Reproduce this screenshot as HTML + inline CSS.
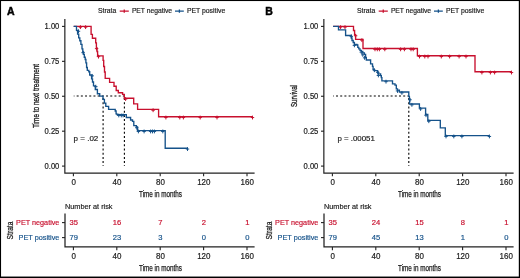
<!DOCTYPE html><html><head><meta charset="utf-8"><style>html,body{margin:0;padding:0;background:#fff;}svg{display:block;will-change:transform;}</style></head><body>
<svg width="520" height="278" viewBox="0 0 520 278" font-family='"Liberation Sans", sans-serif'>
<rect x="0" y="0" width="520" height="278" fill="#fff"/>
<text x="6.90" y="14.70" font-size="10.5" fill="#000" text-anchor="start" stroke="#000" stroke-width="0.45" font-weight="bold" >A</text>
<text x="98.00" y="13.45" font-size="7.2" fill="#1a1a1a" text-anchor="start" stroke="#1a1a1a" stroke-width="0.18" textLength="18.2" lengthAdjust="spacingAndGlyphs" >Strata</text>
<path d="M119.7 11.1H128.8M124.25 9.4V12.8" stroke="#c8102e" stroke-width="1.3"/>
<text x="131.90" y="13.45" font-size="7.2" fill="#1a1a1a" text-anchor="start" stroke="#1a1a1a" stroke-width="0.18" textLength="40.2" lengthAdjust="spacingAndGlyphs" >PET negative</text>
<path d="M175.0 11.1H183.8M179.4 9.4V12.8" stroke="#15528a" stroke-width="1.3"/>
<text x="186.90" y="13.45" font-size="7.2" fill="#1a1a1a" text-anchor="start" stroke="#1a1a1a" stroke-width="0.18" textLength="38.3" lengthAdjust="spacingAndGlyphs" >PET positive</text>
<path d="M64.85 19.1V173.2H254.6" fill="none" stroke="#222" stroke-width="1.2"/>
<path d="M62.0 166.10H65" stroke="#222" stroke-width="1.1"/>
<text x="59.35" y="168.60" font-size="8.4" fill="#1a1a1a" text-anchor="end" stroke="#1a1a1a" stroke-width="0.18" textLength="14.8" lengthAdjust="spacingAndGlyphs" >0.00</text>
<path d="M62.0 131.18H65" stroke="#222" stroke-width="1.1"/>
<text x="59.35" y="133.68" font-size="8.4" fill="#1a1a1a" text-anchor="end" stroke="#1a1a1a" stroke-width="0.18" textLength="14.8" lengthAdjust="spacingAndGlyphs" >0.25</text>
<path d="M62.0 96.25H65" stroke="#222" stroke-width="1.1"/>
<text x="59.35" y="98.75" font-size="8.4" fill="#1a1a1a" text-anchor="end" stroke="#1a1a1a" stroke-width="0.18" textLength="14.8" lengthAdjust="spacingAndGlyphs" >0.50</text>
<path d="M62.0 61.33H65" stroke="#222" stroke-width="1.1"/>
<text x="59.35" y="63.83" font-size="8.4" fill="#1a1a1a" text-anchor="end" stroke="#1a1a1a" stroke-width="0.18" textLength="14.8" lengthAdjust="spacingAndGlyphs" >0.75</text>
<path d="M62.0 26.40H65" stroke="#222" stroke-width="1.1"/>
<text x="59.35" y="28.90" font-size="8.4" fill="#1a1a1a" text-anchor="end" stroke="#1a1a1a" stroke-width="0.18" textLength="14.8" lengthAdjust="spacingAndGlyphs" >1.00</text>
<path d="M73.40 173.2V176.2" stroke="#222" stroke-width="1.1"/>
<text x="73.60" y="184.90" font-size="8.4" fill="#1a1a1a" text-anchor="middle" stroke="#1a1a1a" stroke-width="0.18" textLength="4.45" lengthAdjust="spacingAndGlyphs" >0</text>
<path d="M116.80 173.2V176.2" stroke="#222" stroke-width="1.1"/>
<text x="117.00" y="184.90" font-size="8.4" fill="#1a1a1a" text-anchor="middle" stroke="#1a1a1a" stroke-width="0.18" textLength="8.9" lengthAdjust="spacingAndGlyphs" >40</text>
<path d="M160.20 173.2V176.2" stroke="#222" stroke-width="1.1"/>
<text x="160.40" y="184.90" font-size="8.4" fill="#1a1a1a" text-anchor="middle" stroke="#1a1a1a" stroke-width="0.18" textLength="8.9" lengthAdjust="spacingAndGlyphs" >80</text>
<path d="M203.60 173.2V176.2" stroke="#222" stroke-width="1.1"/>
<text x="203.80" y="184.90" font-size="8.4" fill="#1a1a1a" text-anchor="middle" stroke="#1a1a1a" stroke-width="0.18" textLength="13.34" lengthAdjust="spacingAndGlyphs" >120</text>
<path d="M247.00 173.2V176.2" stroke="#222" stroke-width="1.1"/>
<text x="247.20" y="184.90" font-size="8.4" fill="#1a1a1a" text-anchor="middle" stroke="#1a1a1a" stroke-width="0.18" textLength="13.34" lengthAdjust="spacingAndGlyphs" >160</text>
<text x="160.50" y="197.30" font-size="8.3" fill="#1a1a1a" text-anchor="middle" stroke="#1a1a1a" stroke-width="0.25" textLength="43.0" lengthAdjust="spacingAndGlyphs" >Time in months</text>
<text x="0" y="0" font-size="8.3" fill="#1a1a1a" stroke="#1a1a1a" stroke-width="0.3" text-anchor="middle" textLength="64.2" lengthAdjust="spacingAndGlyphs" transform="translate(38.5 96) rotate(-90)">Time to next treatment</text>
<path d="M73.75 96H124.4M103.1 166V96M124.4 166V96" fill="none" stroke="#000" stroke-width="1.1" stroke-dasharray="2 2.2" stroke-dashoffset="1.3"/>
<path d="M73.75 26.30 H91.10 V34.40 H92.40 V38.20 H95.70 V42.80 H96.40 V47.80 H97.00 V51.50 H97.60 V55.80 H103.10 V60.40 H103.70 V66.50 H104.50 V72.00 H105.20 V78.30 H109.60 V82.40 H114.00 V86.20 H116.20 V90.50 H118.30 V92.70 H122.60 V94.30 H124.30 V98.20 H133.70 V103.80 H137.60 V109.40 H158.60 V116.70 H252.50" fill="none" stroke="#c8102e" stroke-width="1.35" stroke-linejoin="miter"/>
<path d="M80.40 25.25V29.05M78.70 27.15H82.10" stroke="#c8102e" stroke-width="1.0" fill="none"/>
<path d="M85.60 25.25V29.05M83.90 27.15H87.30" stroke="#c8102e" stroke-width="1.0" fill="none"/>
<path d="M96.60 46.75V50.55M94.90 48.65H98.30" stroke="#c8102e" stroke-width="1.0" fill="none"/>
<path d="M98.50 54.75V58.55M96.80 56.65H100.20" stroke="#c8102e" stroke-width="1.0" fill="none"/>
<path d="M125.60 97.15V100.95M123.90 99.05H127.30" stroke="#c8102e" stroke-width="1.0" fill="none"/>
<path d="M153.10 108.35V112.15M151.40 110.25H154.80" stroke="#c8102e" stroke-width="1.0" fill="none"/>
<path d="M165.90 115.65V119.45M164.20 117.55H167.60" stroke="#c8102e" stroke-width="1.0" fill="none"/>
<path d="M179.80 115.65V119.45M178.10 117.55H181.50" stroke="#c8102e" stroke-width="1.0" fill="none"/>
<path d="M183.40 115.65V119.45M181.70 117.55H185.10" stroke="#c8102e" stroke-width="1.0" fill="none"/>
<path d="M200.20 115.65V119.45M198.50 117.55H201.90" stroke="#c8102e" stroke-width="1.0" fill="none"/>
<path d="M217.00 115.65V119.45M215.30 117.55H218.70" stroke="#c8102e" stroke-width="1.0" fill="none"/>
<path d="M252.50 115.65V119.45M250.80 117.55H254.20" stroke="#c8102e" stroke-width="1.0" fill="none"/>
<path d="M73.60 26.30 H76.50 V30.40 H77.60 V34.10 H78.70 V37.90 H79.80 V40.70 H80.90 V44.40 H82.00 V48.80 H82.80 V51.80 H83.50 V54.40 H84.30 V57.20 H85.20 V59.50 H85.90 V62.80 H86.60 V67.50 H87.30 V70.30 H88.80 V71.70 H89.70 V75.00 H91.60 V78.80 H92.50 V82.00 H93.50 V85.80 H95.30 V89.50 H97.40 V93.70 H99.70 V96.10 H103.00 V99.30 H104.40 V103.10 H105.80 V106.40 H108.60 V109.40 H115.20 V111.00 H116.10 V113.80 H117.00 V114.60 H126.30 V117.50 H130.60 V120.00 H132.50 V121.30 H133.80 V125.60 H136.30 V126.90 H137.50 V130.60 H165.20 V148.20 H187.50" fill="none" stroke="#15528a" stroke-width="1.35" stroke-linejoin="miter"/>
<path d="M78.50 29.35V33.15M76.80 31.25H80.20" stroke="#15528a" stroke-width="1.0" fill="none"/>
<path d="M83.10 50.75V54.55M81.40 52.65H84.80" stroke="#15528a" stroke-width="1.0" fill="none"/>
<path d="M92.20 73.95V77.75M90.50 75.85H93.90" stroke="#15528a" stroke-width="1.0" fill="none"/>
<path d="M95.80 84.75V88.55M94.10 86.65H97.50" stroke="#15528a" stroke-width="1.0" fill="none"/>
<path d="M118.80 113.55V117.35M117.10 115.45H120.50" stroke="#15528a" stroke-width="1.0" fill="none"/>
<path d="M121.30 113.55V117.35M119.60 115.45H123.00" stroke="#15528a" stroke-width="1.0" fill="none"/>
<path d="M123.10 113.55V117.35M121.40 115.45H124.80" stroke="#15528a" stroke-width="1.0" fill="none"/>
<path d="M136.80 125.85V129.65M135.10 127.75H138.50" stroke="#15528a" stroke-width="1.0" fill="none"/>
<path d="M138.40 129.55V133.35M136.70 131.45H140.10" stroke="#15528a" stroke-width="1.0" fill="none"/>
<path d="M144.10 129.55V133.35M142.40 131.45H145.80" stroke="#15528a" stroke-width="1.0" fill="none"/>
<path d="M150.60 129.55V133.35M148.90 131.45H152.30" stroke="#15528a" stroke-width="1.0" fill="none"/>
<path d="M152.50 129.55V133.35M150.80 131.45H154.20" stroke="#15528a" stroke-width="1.0" fill="none"/>
<path d="M154.40 129.55V133.35M152.70 131.45H156.10" stroke="#15528a" stroke-width="1.0" fill="none"/>
<path d="M162.80 129.55V133.35M161.10 131.45H164.50" stroke="#15528a" stroke-width="1.0" fill="none"/>
<path d="M187.50 147.15V150.95M185.80 149.05H189.20" stroke="#15528a" stroke-width="1.0" fill="none"/>
<text x="73.60" y="141.10" font-size="8.0" fill="#1a1a1a" text-anchor="start" stroke="#1a1a1a" stroke-width="0.18" >p = .02</text>
<text x="65.00" y="209.00" font-size="7.6" fill="#1a1a1a" text-anchor="start" stroke="#1a1a1a" stroke-width="0.18" textLength="47.5" lengthAdjust="spacingAndGlyphs" >Number at risk</text>
<path d="M65.0 213.6V246.9H254.6" fill="none" stroke="#222" stroke-width="1.25"/>
<path d="M62.0 222.6H65" stroke="#222" stroke-width="1.1"/>
<path d="M62.0 237.6H65" stroke="#222" stroke-width="1.1"/>
<text x="59.40" y="225.10" font-size="7.8" fill="#c8102e" text-anchor="end" stroke="#c8102e" stroke-width="0.18" textLength="43.3" lengthAdjust="spacingAndGlyphs" >PET negative</text>
<text x="59.40" y="240.00" font-size="7.8" fill="#15528a" text-anchor="end" stroke="#15528a" stroke-width="0.18" textLength="40.8" lengthAdjust="spacingAndGlyphs" >PET positive</text>
<text x="0" y="0" font-size="8.3" fill="#1a1a1a" stroke="#1a1a1a" stroke-width="0.25" text-anchor="middle" textLength="17.8" lengthAdjust="spacingAndGlyphs" transform="translate(12.7 230.5) rotate(-90)">Strata</text>
<text x="73.65" y="225.20" font-size="7.8" fill="#c8102e" text-anchor="middle" stroke="#c8102e" stroke-width="0.18" textLength="8.45" lengthAdjust="spacingAndGlyphs" >35</text>
<text x="73.65" y="240.20" font-size="7.8" fill="#15528a" text-anchor="middle" stroke="#15528a" stroke-width="0.18" textLength="8.45" lengthAdjust="spacingAndGlyphs" >79</text>
<path d="M73.40 246.9V250.3" stroke="#222" stroke-width="1.1"/>
<text x="73.60" y="258.70" font-size="8.4" fill="#1a1a1a" text-anchor="middle" stroke="#1a1a1a" stroke-width="0.18" textLength="4.45" lengthAdjust="spacingAndGlyphs" >0</text>
<text x="117.05" y="225.20" font-size="7.8" fill="#c8102e" text-anchor="middle" stroke="#c8102e" stroke-width="0.18" textLength="8.45" lengthAdjust="spacingAndGlyphs" >16</text>
<text x="117.05" y="240.20" font-size="7.8" fill="#15528a" text-anchor="middle" stroke="#15528a" stroke-width="0.18" textLength="8.45" lengthAdjust="spacingAndGlyphs" >23</text>
<path d="M116.80 246.9V250.3" stroke="#222" stroke-width="1.1"/>
<text x="117.00" y="258.70" font-size="8.4" fill="#1a1a1a" text-anchor="middle" stroke="#1a1a1a" stroke-width="0.18" textLength="8.9" lengthAdjust="spacingAndGlyphs" >40</text>
<text x="160.45" y="225.20" font-size="7.8" fill="#c8102e" text-anchor="middle" stroke="#c8102e" stroke-width="0.18" textLength="4.23" lengthAdjust="spacingAndGlyphs" >7</text>
<text x="160.45" y="240.20" font-size="7.8" fill="#15528a" text-anchor="middle" stroke="#15528a" stroke-width="0.18" textLength="4.23" lengthAdjust="spacingAndGlyphs" >3</text>
<path d="M160.20 246.9V250.3" stroke="#222" stroke-width="1.1"/>
<text x="160.40" y="258.70" font-size="8.4" fill="#1a1a1a" text-anchor="middle" stroke="#1a1a1a" stroke-width="0.18" textLength="8.9" lengthAdjust="spacingAndGlyphs" >80</text>
<text x="203.85" y="225.20" font-size="7.8" fill="#c8102e" text-anchor="middle" stroke="#c8102e" stroke-width="0.18" textLength="4.23" lengthAdjust="spacingAndGlyphs" >2</text>
<text x="203.85" y="240.20" font-size="7.8" fill="#15528a" text-anchor="middle" stroke="#15528a" stroke-width="0.18" textLength="4.23" lengthAdjust="spacingAndGlyphs" >0</text>
<path d="M203.60 246.9V250.3" stroke="#222" stroke-width="1.1"/>
<text x="203.80" y="258.70" font-size="8.4" fill="#1a1a1a" text-anchor="middle" stroke="#1a1a1a" stroke-width="0.18" textLength="13.34" lengthAdjust="spacingAndGlyphs" >120</text>
<text x="247.25" y="225.20" font-size="7.8" fill="#c8102e" text-anchor="middle" stroke="#c8102e" stroke-width="0.18" textLength="4.23" lengthAdjust="spacingAndGlyphs" >1</text>
<text x="247.25" y="240.20" font-size="7.8" fill="#15528a" text-anchor="middle" stroke="#15528a" stroke-width="0.18" textLength="4.23" lengthAdjust="spacingAndGlyphs" >0</text>
<path d="M247.00 246.9V250.3" stroke="#222" stroke-width="1.1"/>
<text x="247.20" y="258.70" font-size="8.4" fill="#1a1a1a" text-anchor="middle" stroke="#1a1a1a" stroke-width="0.18" textLength="13.34" lengthAdjust="spacingAndGlyphs" >160</text>
<text x="160.50" y="271.10" font-size="8.3" fill="#1a1a1a" text-anchor="middle" stroke="#1a1a1a" stroke-width="0.25" textLength="43.0" lengthAdjust="spacingAndGlyphs" >Time in months</text>
<g>
<text x="265.15" y="14.70" font-size="10.5" fill="#000" text-anchor="start" stroke="#000" stroke-width="0.45" font-weight="bold" >B</text>
<text x="357.00" y="13.45" font-size="7.2" fill="#1a1a1a" text-anchor="start" stroke="#1a1a1a" stroke-width="0.18" textLength="18.2" lengthAdjust="spacingAndGlyphs" >Strata</text>
<path d="M378.7 11.1H387.8M383.25 9.4V12.8" stroke="#c8102e" stroke-width="1.3"/>
<text x="390.90" y="13.45" font-size="7.2" fill="#1a1a1a" text-anchor="start" stroke="#1a1a1a" stroke-width="0.18" textLength="40.2" lengthAdjust="spacingAndGlyphs" >PET negative</text>
<path d="M434.0 11.1H442.8M438.4 9.4V12.8" stroke="#15528a" stroke-width="1.3"/>
<text x="445.90" y="13.45" font-size="7.2" fill="#1a1a1a" text-anchor="start" stroke="#1a1a1a" stroke-width="0.18" textLength="38.3" lengthAdjust="spacingAndGlyphs" >PET positive</text>
<path d="M323.85 19.1V173.2H513.6" fill="none" stroke="#222" stroke-width="1.2"/>
<path d="M321.0 166.10H324.0" stroke="#222" stroke-width="1.1"/>
<text x="318.35" y="168.60" font-size="8.4" fill="#1a1a1a" text-anchor="end" stroke="#1a1a1a" stroke-width="0.18" textLength="14.8" lengthAdjust="spacingAndGlyphs" >0.00</text>
<path d="M321.0 131.18H324.0" stroke="#222" stroke-width="1.1"/>
<text x="318.35" y="133.68" font-size="8.4" fill="#1a1a1a" text-anchor="end" stroke="#1a1a1a" stroke-width="0.18" textLength="14.8" lengthAdjust="spacingAndGlyphs" >0.25</text>
<path d="M321.0 96.25H324.0" stroke="#222" stroke-width="1.1"/>
<text x="318.35" y="98.75" font-size="8.4" fill="#1a1a1a" text-anchor="end" stroke="#1a1a1a" stroke-width="0.18" textLength="14.8" lengthAdjust="spacingAndGlyphs" >0.50</text>
<path d="M321.0 61.33H324.0" stroke="#222" stroke-width="1.1"/>
<text x="318.35" y="63.83" font-size="8.4" fill="#1a1a1a" text-anchor="end" stroke="#1a1a1a" stroke-width="0.18" textLength="14.8" lengthAdjust="spacingAndGlyphs" >0.75</text>
<path d="M321.0 26.40H324.0" stroke="#222" stroke-width="1.1"/>
<text x="318.35" y="28.90" font-size="8.4" fill="#1a1a1a" text-anchor="end" stroke="#1a1a1a" stroke-width="0.18" textLength="14.8" lengthAdjust="spacingAndGlyphs" >1.00</text>
<path d="M332.40 173.2V176.2" stroke="#222" stroke-width="1.1"/>
<text x="332.60" y="184.90" font-size="8.4" fill="#1a1a1a" text-anchor="middle" stroke="#1a1a1a" stroke-width="0.18" textLength="4.45" lengthAdjust="spacingAndGlyphs" >0</text>
<path d="M375.80 173.2V176.2" stroke="#222" stroke-width="1.1"/>
<text x="376.00" y="184.90" font-size="8.4" fill="#1a1a1a" text-anchor="middle" stroke="#1a1a1a" stroke-width="0.18" textLength="8.9" lengthAdjust="spacingAndGlyphs" >40</text>
<path d="M419.20 173.2V176.2" stroke="#222" stroke-width="1.1"/>
<text x="419.40" y="184.90" font-size="8.4" fill="#1a1a1a" text-anchor="middle" stroke="#1a1a1a" stroke-width="0.18" textLength="8.9" lengthAdjust="spacingAndGlyphs" >80</text>
<path d="M462.60 173.2V176.2" stroke="#222" stroke-width="1.1"/>
<text x="462.80" y="184.90" font-size="8.4" fill="#1a1a1a" text-anchor="middle" stroke="#1a1a1a" stroke-width="0.18" textLength="13.34" lengthAdjust="spacingAndGlyphs" >120</text>
<path d="M506.00 173.2V176.2" stroke="#222" stroke-width="1.1"/>
<text x="506.20" y="184.90" font-size="8.4" fill="#1a1a1a" text-anchor="middle" stroke="#1a1a1a" stroke-width="0.18" textLength="13.34" lengthAdjust="spacingAndGlyphs" >160</text>
<text x="419.50" y="197.30" font-size="8.3" fill="#1a1a1a" text-anchor="middle" stroke="#1a1a1a" stroke-width="0.25" textLength="43.0" lengthAdjust="spacingAndGlyphs" >Time in months</text>
<text x="0" y="0" font-size="8.3" fill="#1a1a1a" stroke="#1a1a1a" stroke-width="0.3" text-anchor="middle" textLength="22.0" lengthAdjust="spacingAndGlyphs" transform="translate(297.1 96) rotate(-90)">Survival</text>
<path d="M333.1 96H408.8M408.8 166V96" fill="none" stroke="#000" stroke-width="1.1" stroke-dasharray="2 2.2" stroke-dashoffset="1.3"/>
<path d="M333.10 26.30 H353.50 V30.50 H354.60 V34.90 H355.60 V39.30 H363.00 V48.50 H417.40 V55.70 H475.00 V71.70 H511.50" fill="none" stroke="#c8102e" stroke-width="1.35" stroke-linejoin="miter"/>
<path d="M340.60 25.25V29.05M338.90 27.15H342.30" stroke="#c8102e" stroke-width="1.0" fill="none"/>
<path d="M345.00 25.25V29.05M343.30 27.15H346.70" stroke="#c8102e" stroke-width="1.0" fill="none"/>
<path d="M355.60 33.85V37.65M353.90 35.75H357.30" stroke="#c8102e" stroke-width="1.0" fill="none"/>
<path d="M361.90 38.25V42.05M360.20 40.15H363.60" stroke="#c8102e" stroke-width="1.0" fill="none"/>
<path d="M375.00 47.45V51.25M373.30 49.35H376.70" stroke="#c8102e" stroke-width="1.0" fill="none"/>
<path d="M377.30 47.45V51.25M375.60 49.35H379.00" stroke="#c8102e" stroke-width="1.0" fill="none"/>
<path d="M379.40 47.45V51.25M377.70 49.35H381.10" stroke="#c8102e" stroke-width="1.0" fill="none"/>
<path d="M384.80 47.45V51.25M383.10 49.35H386.50" stroke="#c8102e" stroke-width="1.0" fill="none"/>
<path d="M400.60 47.45V51.25M398.90 49.35H402.30" stroke="#c8102e" stroke-width="1.0" fill="none"/>
<path d="M404.40 47.45V51.25M402.70 49.35H406.10" stroke="#c8102e" stroke-width="1.0" fill="none"/>
<path d="M411.00 47.45V51.25M409.30 49.35H412.70" stroke="#c8102e" stroke-width="1.0" fill="none"/>
<path d="M413.20 47.45V51.25M411.50 49.35H414.90" stroke="#c8102e" stroke-width="1.0" fill="none"/>
<path d="M419.50 54.65V58.45M417.80 56.55H421.20" stroke="#c8102e" stroke-width="1.0" fill="none"/>
<path d="M424.80 54.65V58.45M423.10 56.55H426.50" stroke="#c8102e" stroke-width="1.0" fill="none"/>
<path d="M428.00 54.65V58.45M426.30 56.55H429.70" stroke="#c8102e" stroke-width="1.0" fill="none"/>
<path d="M441.30 54.65V58.45M439.60 56.55H443.00" stroke="#c8102e" stroke-width="1.0" fill="none"/>
<path d="M449.60 54.65V58.45M447.90 56.55H451.30" stroke="#c8102e" stroke-width="1.0" fill="none"/>
<path d="M459.10 54.65V58.45M457.40 56.55H460.80" stroke="#c8102e" stroke-width="1.0" fill="none"/>
<path d="M466.00 54.65V58.45M464.30 56.55H467.70" stroke="#c8102e" stroke-width="1.0" fill="none"/>
<path d="M481.90 70.65V74.45M480.20 72.55H483.60" stroke="#c8102e" stroke-width="1.0" fill="none"/>
<path d="M490.40 70.65V74.45M488.70 72.55H492.10" stroke="#c8102e" stroke-width="1.0" fill="none"/>
<path d="M494.60 70.65V74.45M492.90 72.55H496.30" stroke="#c8102e" stroke-width="1.0" fill="none"/>
<path d="M511.50 70.65V74.45M509.80 72.55H513.20" stroke="#c8102e" stroke-width="1.0" fill="none"/>
<path d="M333.10 26.30 H338.50 V29.90 H345.60 V35.50 H351.30 V38.00 H352.00 V40.50 H353.20 V42.50 H354.40 V44.50 H356.90 V45.00 H357.80 V47.40 H358.80 V48.80 H360.00 V50.30 H361.30 V51.30 H362.80 V52.80 H364.40 V54.40 H365.60 V57.50 H366.30 V60.00 H370.60 V63.80 H372.50 V66.30 H373.10 V69.40 H374.40 V70.60 H377.50 V72.00 H378.10 V73.80 H380.60 V75.60 H381.30 V77.60 H381.90 V80.80 H392.50 V83.90 H395.00 V85.10 H396.30 V88.90 H397.50 V90.10 H399.40 V92.00 H408.80 V96.40 H409.40 V98.90 H409.60 V104.00 H419.40 V108.10 H425.60 V114.40 H427.80 V120.40 H440.30 V127.80 H445.30 V135.60 H489.40" fill="none" stroke="#15528a" stroke-width="1.35" stroke-linejoin="miter"/>
<path d="M351.30 34.45V38.25M349.60 36.35H353.00" stroke="#15528a" stroke-width="1.0" fill="none"/>
<path d="M354.40 43.45V47.25M352.70 45.35H356.10" stroke="#15528a" stroke-width="1.0" fill="none"/>
<path d="M361.30 50.25V54.05M359.60 52.15H363.00" stroke="#15528a" stroke-width="1.0" fill="none"/>
<path d="M362.80 52.95V56.75M361.10 54.85H364.50" stroke="#15528a" stroke-width="1.0" fill="none"/>
<path d="M364.60 55.95V59.75M362.90 57.85H366.30" stroke="#15528a" stroke-width="1.0" fill="none"/>
<path d="M374.40 68.35V72.15M372.70 70.25H376.10" stroke="#15528a" stroke-width="1.0" fill="none"/>
<path d="M377.80 70.45V74.25M376.10 72.35H379.50" stroke="#15528a" stroke-width="1.0" fill="none"/>
<path d="M378.40 73.55V77.35M376.70 75.45H380.10" stroke="#15528a" stroke-width="1.0" fill="none"/>
<path d="M386.00 79.75V83.55M384.30 81.65H387.70" stroke="#15528a" stroke-width="1.0" fill="none"/>
<path d="M397.50 89.05V92.85M395.80 90.95H399.20" stroke="#15528a" stroke-width="1.0" fill="none"/>
<path d="M401.90 90.95V94.75M400.20 92.85H403.60" stroke="#15528a" stroke-width="1.0" fill="none"/>
<path d="M410.00 97.85V101.65M408.30 99.75H411.70" stroke="#15528a" stroke-width="1.0" fill="none"/>
<path d="M411.90 102.95V106.75M410.20 104.85H413.60" stroke="#15528a" stroke-width="1.0" fill="none"/>
<path d="M420.60 107.05V110.85M418.90 108.95H422.30" stroke="#15528a" stroke-width="1.0" fill="none"/>
<path d="M426.00 113.35V117.15M424.30 115.25H427.70" stroke="#15528a" stroke-width="1.0" fill="none"/>
<path d="M428.80 119.35V123.15M427.10 121.25H430.50" stroke="#15528a" stroke-width="1.0" fill="none"/>
<path d="M446.00 134.55V138.35M444.30 136.45H447.70" stroke="#15528a" stroke-width="1.0" fill="none"/>
<path d="M453.80 134.55V138.35M452.10 136.45H455.50" stroke="#15528a" stroke-width="1.0" fill="none"/>
<path d="M461.90 134.55V138.35M460.20 136.45H463.60" stroke="#15528a" stroke-width="1.0" fill="none"/>
<path d="M489.40 134.55V138.35M487.70 136.45H491.10" stroke="#15528a" stroke-width="1.0" fill="none"/>
<text x="337.40" y="141.10" font-size="8.0" fill="#1a1a1a" text-anchor="start" stroke="#1a1a1a" stroke-width="0.18" textLength="37.4" lengthAdjust="spacingAndGlyphs" >p = .00051</text>
<text x="324.00" y="209.00" font-size="7.6" fill="#1a1a1a" text-anchor="start" stroke="#1a1a1a" stroke-width="0.18" textLength="47.5" lengthAdjust="spacingAndGlyphs" >Number at risk</text>
<path d="M324.0 213.6V246.9H513.6" fill="none" stroke="#222" stroke-width="1.25"/>
<path d="M321.0 222.6H324.0" stroke="#222" stroke-width="1.1"/>
<path d="M321.0 237.6H324.0" stroke="#222" stroke-width="1.1"/>
<text x="318.40" y="225.10" font-size="7.8" fill="#c8102e" text-anchor="end" stroke="#c8102e" stroke-width="0.18" textLength="43.3" lengthAdjust="spacingAndGlyphs" >PET negative</text>
<text x="318.40" y="240.00" font-size="7.8" fill="#15528a" text-anchor="end" stroke="#15528a" stroke-width="0.18" textLength="40.8" lengthAdjust="spacingAndGlyphs" >PET positive</text>
<text x="0" y="0" font-size="8.3" fill="#1a1a1a" stroke="#1a1a1a" stroke-width="0.25" text-anchor="middle" textLength="17.8" lengthAdjust="spacingAndGlyphs" transform="translate(271.7 230.5) rotate(-90)">Strata</text>
<text x="332.65" y="225.20" font-size="7.8" fill="#c8102e" text-anchor="middle" stroke="#c8102e" stroke-width="0.18" textLength="8.45" lengthAdjust="spacingAndGlyphs" >35</text>
<text x="332.65" y="240.20" font-size="7.8" fill="#15528a" text-anchor="middle" stroke="#15528a" stroke-width="0.18" textLength="8.45" lengthAdjust="spacingAndGlyphs" >79</text>
<path d="M332.40 246.9V250.3" stroke="#222" stroke-width="1.1"/>
<text x="332.60" y="258.70" font-size="8.4" fill="#1a1a1a" text-anchor="middle" stroke="#1a1a1a" stroke-width="0.18" textLength="4.45" lengthAdjust="spacingAndGlyphs" >0</text>
<text x="376.05" y="225.20" font-size="7.8" fill="#c8102e" text-anchor="middle" stroke="#c8102e" stroke-width="0.18" textLength="8.45" lengthAdjust="spacingAndGlyphs" >24</text>
<text x="376.05" y="240.20" font-size="7.8" fill="#15528a" text-anchor="middle" stroke="#15528a" stroke-width="0.18" textLength="8.45" lengthAdjust="spacingAndGlyphs" >45</text>
<path d="M375.80 246.9V250.3" stroke="#222" stroke-width="1.1"/>
<text x="376.00" y="258.70" font-size="8.4" fill="#1a1a1a" text-anchor="middle" stroke="#1a1a1a" stroke-width="0.18" textLength="8.9" lengthAdjust="spacingAndGlyphs" >40</text>
<text x="419.45" y="225.20" font-size="7.8" fill="#c8102e" text-anchor="middle" stroke="#c8102e" stroke-width="0.18" textLength="8.45" lengthAdjust="spacingAndGlyphs" >15</text>
<text x="419.45" y="240.20" font-size="7.8" fill="#15528a" text-anchor="middle" stroke="#15528a" stroke-width="0.18" textLength="8.45" lengthAdjust="spacingAndGlyphs" >13</text>
<path d="M419.20 246.9V250.3" stroke="#222" stroke-width="1.1"/>
<text x="419.40" y="258.70" font-size="8.4" fill="#1a1a1a" text-anchor="middle" stroke="#1a1a1a" stroke-width="0.18" textLength="8.9" lengthAdjust="spacingAndGlyphs" >80</text>
<text x="462.85" y="225.20" font-size="7.8" fill="#c8102e" text-anchor="middle" stroke="#c8102e" stroke-width="0.18" textLength="4.23" lengthAdjust="spacingAndGlyphs" >8</text>
<text x="462.85" y="240.20" font-size="7.8" fill="#15528a" text-anchor="middle" stroke="#15528a" stroke-width="0.18" textLength="4.23" lengthAdjust="spacingAndGlyphs" >1</text>
<path d="M462.60 246.9V250.3" stroke="#222" stroke-width="1.1"/>
<text x="462.80" y="258.70" font-size="8.4" fill="#1a1a1a" text-anchor="middle" stroke="#1a1a1a" stroke-width="0.18" textLength="13.34" lengthAdjust="spacingAndGlyphs" >120</text>
<text x="506.25" y="225.20" font-size="7.8" fill="#c8102e" text-anchor="middle" stroke="#c8102e" stroke-width="0.18" textLength="4.23" lengthAdjust="spacingAndGlyphs" >1</text>
<text x="506.25" y="240.20" font-size="7.8" fill="#15528a" text-anchor="middle" stroke="#15528a" stroke-width="0.18" textLength="4.23" lengthAdjust="spacingAndGlyphs" >0</text>
<path d="M506.00 246.9V250.3" stroke="#222" stroke-width="1.1"/>
<text x="506.20" y="258.70" font-size="8.4" fill="#1a1a1a" text-anchor="middle" stroke="#1a1a1a" stroke-width="0.18" textLength="13.34" lengthAdjust="spacingAndGlyphs" >160</text>
<text x="419.50" y="271.10" font-size="8.3" fill="#1a1a1a" text-anchor="middle" stroke="#1a1a1a" stroke-width="0.25" textLength="43.0" lengthAdjust="spacingAndGlyphs" >Time in months</text>
</g>
<rect x="0" y="0" width="520" height="1.05" fill="#000"/>
<rect x="0" y="0" width="1.05" height="278" fill="#000"/>
<rect x="518.8" y="0" width="1.2" height="278" fill="#000"/>
<rect x="0" y="276.55" width="520" height="1.45" fill="#000"/>
</svg></body></html>
